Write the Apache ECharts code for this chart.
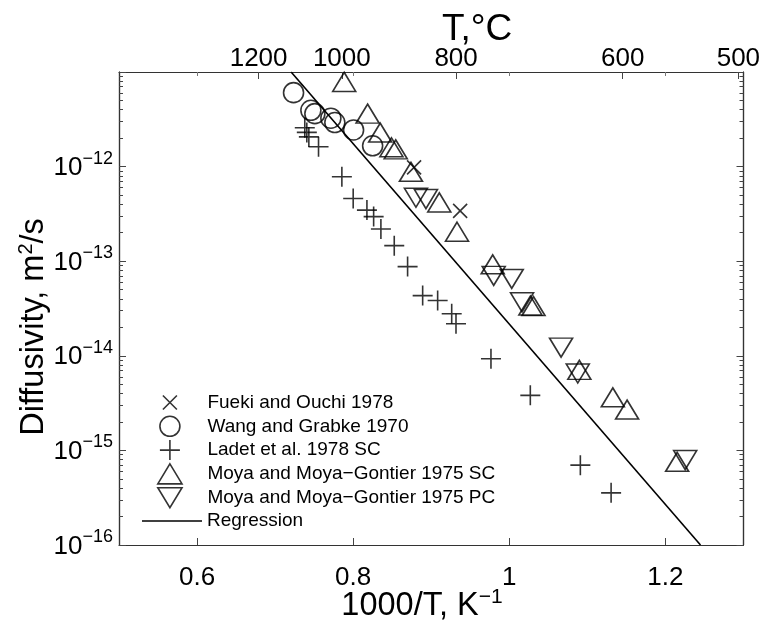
<!DOCTYPE html>
<html>
<head>
<meta charset="utf-8">
<script src="https://cdn.jsdelivr.net/npm/echarts@6/dist/echarts.min.js"></script>
<style>
html,body{margin:0;padding:0;background:#fff;}
#chart{width:763px;height:626px;}
</style>
</head>
<body>
<div id="chart"></div>
<script>
// ---- data (x = 1000/T in K^-1, y = diffusivity in m^2/s) ----
const fuekiOuchi1978 = [[0.878, 9.8e-13], [0.937, 3.4e-13]];
const wangGrabke1970 = [
  [0.7236, 6.05e-12], [0.7458, 3.94e-12], [0.7509, 3.63e-12], [0.7714, 3.25e-12],
  [0.7765, 2.92e-12], [0.8005, 2.44e-12], [0.8249, 1.66e-12]
];
const ladet1978SC = [
  [0.738, 2.57e-12], [0.7406, 2.30e-12], [0.7432, 2.06e-12], [0.7556, 1.62e-12],
  [0.7855, 7.8e-13], [0.800, 4.6e-13], [0.8176, 3.47e-13], [0.8262, 2.96e-13],
  [0.8355, 2.19e-13], [0.8526, 1.46e-13], [0.8697, 8.77e-14], [0.889, 4.33e-14],
  [0.9082, 3.84e-14], [0.9262, 2.78e-14], [0.9317, 2.18e-14], [0.9765, 9.3e-15],
  [1.0269, 3.82e-15], [1.091, 6.98e-16], [1.1304, 3.56e-16]
];
const moya1975SC = [
  [0.7885, 7.85e-12], [0.8185, 3.63e-12], [0.8346, 2.29e-12], [0.849, 1.6e-12],
  [0.8545, 1.52e-12], [0.874, 8.8e-13], [0.9103, 4.18e-13], [0.933, 2.05e-13],
  [0.9787, 9.27e-14], [1.027, 3.4e-14], [1.031, 3.35e-14], [1.0897, 7.1e-15],
  [1.1326, 3.64e-15], [1.1509, 2.7e-15], [1.215, 7.57e-16]
];
const moya1975PC = [
  [0.8804, 4.69e-13], [0.8932, 4.54e-13], [0.980, 7.0e-14], [1.0031, 6.5e-14],
  [1.0163, 3.68e-14], [1.0663, 1.22e-14], [1.0877, 6.5e-15], [1.2253, 7.9e-16]
];
const regression = [[0.7205, 1e-11], [1.2449, 1e-16]];

// ---- ticks ----
const xTicks = [0.6, 0.8, 1.0, 1.2];
const topTempLabels = [1200, 1000, 800, 600, 500];   // T, °C
const yMajor = [1e-16, 1e-15, 1e-14, 1e-13, 1e-12, 1e-11];
const yLabelled = [1e-16, 1e-15, 1e-14, 1e-13, 1e-12];
const minorMult = [2, 3, 4, 5, 6, 7, 8, 9];

const topTempPos = topTempLabels.map(t => 1000 / (t + 273.15));
const yMinor = [];
yMajor.slice(0, -1).forEach(d => minorMult.forEach(m => yMinor.push(m * d)));

const FONT = "'Liberation Sans', Arial, Helvetica, sans-serif";
const INK = '#000';

const SYM_X = 'path://M-3,-3M0,0L14,14M14,0L0,14M17,17';
const SYM_PLUS = 'path://M0,10L20,10M10,0L10,20';
const SYM_UP = 'path://M11.5,0L23,19L0,19Z';
const SYM_DOWN = 'path://M0,0L23,0L11.5,19Z';

const hollow = { color: 'rgba(0,0,0,0)', borderColor: INK, borderWidth: 1.6 };

function yAxisDef(position, ticks, len, labels) {
  return {
    type: 'log', logBase: 10, min: 1e-16, max: 1e-11, position: position,
    axisLine: { show: true, lineStyle: { color: '#333', width: 1.2 } },
    axisTick: { show: true, inside: true, length: len, customValues: ticks, lineStyle: { color: '#444', width: 1 } },
    axisLabel: labels ? {
      show: true, customValues: yLabelled, margin: 6, color: INK, fontFamily: FONT, fontSize: 26,
      formatter: v => '{b|10}{s|\u2212' + Math.round(-Math.log10(v)) + '}',
      rich: {
        b: { fontSize: 26, fontFamily: FONT, color: INK, padding: [3, 0, 0, 0] },
        s: { fontSize: 18, fontFamily: FONT, color: INK, padding: [0, 0, 16, 0] }
      }
    } : { show: false },
    splitLine: { show: false }, minorTick: { show: false }, minorSplitLine: { show: false }
  };
}

const chart = echarts.init(document.getElementById('chart'), null, { renderer: 'canvas' });
chart.setOption({
  backgroundColor: '#fff',
  animation: false,
  title: {
    text: 'T,\u00B0C', left: 437, top: 6,
    textStyle: { fontSize: 37, fontWeight: 'normal', fontFamily: FONT, color: INK }
  },
  grid: { left: 119, right: 19.5, top: 72, bottom: 81, containLabel: false, outerBoundsMode: 'none' },
  graphic: [
    {
      type: 'text', x: 422, y: 606, silent: true,
      style: {
        text: '1000/T, K{s|\u22121}', fill: INK, fontSize: 32.5, fontFamily: FONT,
        align: 'center', verticalAlign: 'middle',
        rich: { s: { fontSize: 21, fontFamily: FONT, fill: INK, padding: [0, 0, 17, 0] } }
      }
    },
    {
      type: 'text', x: 34, y: 327, rotation: Math.PI / 2, silent: true,
      style: {
        text: 'Diffusivity, m{s|2}/s', fill: INK, fontSize: 32.5, fontFamily: FONT,
        align: 'center', verticalAlign: 'middle',
        rich: { s: { fontSize: 20, fontFamily: FONT, fill: INK, padding: [0, 0, 16, 0] } }
      }
    }
  ],
  xAxis: [
    {
      type: 'value', min: 0.5, max: 1.3, position: 'bottom',
      axisLine: { show: true, lineStyle: { color: '#333', width: 1.2 } },
      axisTick: { show: true, inside: true, length: 7, customValues: xTicks, lineStyle: { color: '#444' } },
      axisLabel: {
        show: true, customValues: xTicks, margin: 19.5, color: INK, fontFamily: FONT, fontSize: 26,
        formatter: v => String(Math.round(v * 10) / 10)
      },
      splitLine: { show: false }
    },
    {
      type: 'value', min: 0.5, max: 1.3, position: 'top',
      axisLine: { show: true, lineStyle: { color: '#333', width: 1.2 } },
      axisTick: { show: true, inside: true, length: 7, customValues: topTempPos, lineStyle: { color: '#444' } },
      axisLabel: {
        show: true, customValues: topTempPos, margin: 0, color: INK, fontFamily: FONT, fontSize: 26,
        formatter: v => String(Math.round(1000 / v - 273.15))
      },
      splitLine: { show: false }
    },
    {
      type: 'value', min: 0.5, max: 1.3, position: 'top',
      axisLine: { show: false },
      axisTick: { show: true, inside: true, length: 4, customValues: xTicks, lineStyle: { color: '#777' } },
      axisLabel: { show: false },
      splitLine: { show: false }
    }
  ],
  yAxis: [
    yAxisDef('left', yMajor, 7, true),
    yAxisDef('left', yMinor, 4, false),
    yAxisDef('right', yMajor, 7, false),
    yAxisDef('right', yMinor, 4, false)
  ],
  legend: [
    {
      orient: 'vertical', left: 157, top: 391.7, padding: 0,
      itemWidth: 65, itemHeight: 20, itemGap: 2.2, selectedMode: false,
      itemStyle: { color: 'rgba(0,0,0,0)', borderColor: INK, borderWidth: 1.6 },
      textStyle: { fontSize: 19, fontFamily: FONT, color: INK },
      data: ['Fueki and Ouchi 1978', 'Wang and Grabke 1970', 'Ladet et al. 1978 SC',
             'Moya and Moya\u2212Gontier 1975 SC', 'Moya and Moya\u2212Gontier 1975 PC']
    },
    {
      orient: 'vertical', left: 142, top: 511.5, padding: 0,
      itemWidth: 60, itemHeight: 1.6, selectedMode: false,
      itemStyle: { color: INK, borderWidth: 0 },
      textStyle: { fontSize: 19, fontFamily: FONT, color: INK },
      data: [{ name: 'Regression', icon: 'rect' }]
    }
  ],
  series: [
    { name: 'Regression', type: 'line', data: regression, symbol: 'none', showSymbol: false,
      lineStyle: { color: INK, width: 1.6 }, itemStyle: { color: INK }, z: 1, clip: true },
    { name: 'Fueki and Ouchi 1978', type: 'scatter', data: fuekiOuchi1978, symbol: SYM_X, symbolSize: 20, itemStyle: hollow },
    { name: 'Wang and Grabke 1970', type: 'scatter', data: wangGrabke1970, symbol: 'circle', symbolSize: 20, itemStyle: hollow },
    { name: 'Ladet et al. 1978 SC', type: 'scatter', data: ladet1978SC, symbol: SYM_PLUS, symbolSize: 20, itemStyle: hollow },
    { name: 'Moya and Moya\u2212Gontier 1975 SC', type: 'scatter', data: moya1975SC, symbol: SYM_UP, symbolSize: [23, 19], itemStyle: hollow },
    { name: 'Moya and Moya\u2212Gontier 1975 PC', type: 'scatter', data: moya1975PC, symbol: SYM_DOWN, symbolSize: [23, 19], itemStyle: hollow }
  ]
});
</script>
</body>
</html>
